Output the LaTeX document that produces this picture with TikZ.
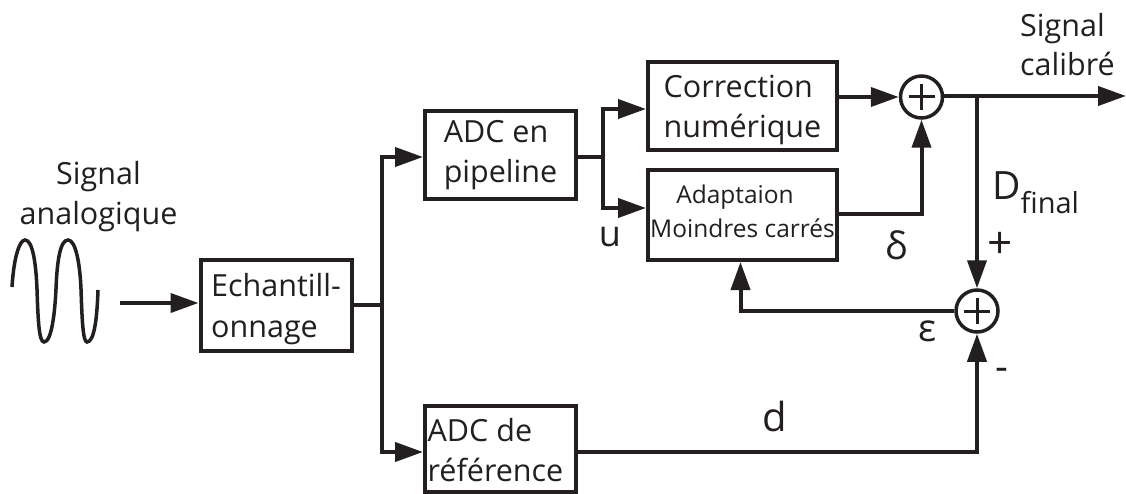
\documentclass[tikz,border=0pt]{standalone}
\usepackage{fontspec}
\setmainfont{Open Sans}
\usetikzlibrary{arrows.meta}
\definecolor{ink}{HTML}{231F20}
\tikzset{
  bloc/.style={draw=ink, line width=4pt, rectangle, inner sep=0pt, text=ink, align=left,
    font=\fontsize{30.5}{40}\selectfont},
  somme/.style={draw=ink, line width=3.5pt, circle, minimum size=42pt, inner sep=0pt},
  fil/.style={draw=ink, line width=4pt},
  fleche/.style={fil, -{Triangle[length=28pt,width=19pt]}},
  lab/.style={text=ink, inner sep=0pt, align=left, font=\fontsize{30.5}{39}\selectfont},
  signe/.style={draw=ink, line width=3pt}
}
\begin{document}
\begin{tikzpicture}[x=1pt,y=-1pt]
  \useasboundingbox (0,0) rectangle (1126,494);
  % blocs
  \node[bloc, minimum width=151pt, minimum height=91pt, font=\fontsize{30.5}{41}\selectfont] (ech) at (276,305) {\rule{0pt}{31pt}Echantill-\\onnage};
  \node[bloc, minimum width=151pt, minimum height=88pt] (pipe) at (500.5,155) {ADC en\\pipeline};
  \node[bloc, minimum width=151pt, minimum height=86pt] (ref) at (500.5,449) {\rule{0pt}{26pt}ADC de\\référence\hspace*{10pt}};
  \node[bloc, minimum width=189pt, minimum height=88pt] (corr) at (742.5,106) {\rule{0pt}{31pt}Correction\\numérique};
  \node[bloc, minimum width=189pt, minimum height=90pt, align=center,
    font=\fontsize{24.5}{34}\selectfont] (adapt) at (742.5,215) {Adaptaion\hspace*{15pt}\\Moindres carrés\rule[-7pt]{0pt}{7pt}};
  \node[somme] (sumA) at (921.5,97) {};
  \node[somme] (sumB) at (977,311) {};
  \draw[signe] (sumA.center) +(-13,0) -- +(13,0) (sumA.center) +(0,-13) -- +(0,13);
  \draw[signe] (sumB.center) +(-13,0) -- +(13,0) (sumB.center) +(0,-13) -- +(0,13);
  % points libres
  \coordinate (ent) at (120,303);
  \coordinate (sortie) at (1126,96);
  \coordinate (brA) at (382,305);
  \coordinate (brB) at (603,157);
  \coordinate (nD) at (977,96);
  % liaisons
  \draw[fleche] (ent) -- (ech.west |- ent);
  \draw[fil] (ech.east |- brA) -- (brA);
  \draw[fleche] (brA) |- (pipe.west |- brB);
  \coordinate (bas) at (ref.east |- 0,452);
  \draw[fleche] (brA) |- (ref.west |- bas);
  \draw[fil] (pipe.east |- brB) -- (brB);
  \coordinate (hA) at (603,109);
  \coordinate (hB) at (603,208);
  \draw[fleche] (brB) -- (hA) -- (corr.west |- hA);
  \draw[fleche] (brB) -- (hB) -- (adapt.west |- hB);
  \draw[fleche] (corr.east |- sumA) -- (sumA.west);
  \coordinate (delta) at (adapt.east |- 0,214);
  \draw[fleche] (delta) -| (sumA.south);
  \draw[fleche] (sumA.east |- nD) -- (sortie);
  \draw[fleche] (nD) -- (sumB.north);
  \coordinate (ret) at (740.5,311);
  \draw[fleche] (sumB.west) -- (ret) -- (ret |- adapt.south);
  \draw[fleche] (bas) -| (sumB.south);
  % sinusoide
  \draw[ink, line width=3.5pt] (12,287) .. controls (14,255) and (20,240) .. (25,240)
    .. controls (33,240) and (36,265) .. (37,289)
    .. controls (38,320) and (39,342) .. (44,342)
    .. controls (52,342) and (55,310) .. (56,289)
    .. controls (57,262) and (60,240) .. (68,240)
    .. controls (76,240) and (80,265) .. (81,289)
    .. controls (82,320) and (83,342) .. (87,342)
    .. controls (94,342) and (97,320) .. (98,290);
  % textes
  \node[lab, align=center, font=\fontsize{30.5}{40}\selectfont] (tAna) at (98.5,197) {Signal\\analogique};
  \node[lab, anchor=west] (tCal) at (1020,45) {Signal\\calibré};
  \node[lab, font=\fontsize{36}{40}\selectfont] (tU) at (610,237) {u};
  \node[lab, font=\fontsize{38}{40}\selectfont] (tDelta) at (897,245) {δ};
  \node[lab, font=\fontsize{38}{40}\selectfont] (tEps) at (928,331) {ε};
  \node[lab, font=\fontsize{44}{40}\selectfont] (tPlus) at (1000,245) {+};
  \node[lab, font=\fontsize{40}{40}\selectfont] (tMoins) at (1002,374) {-};
  \node[lab, font=\fontsize{40}{40}\selectfont] (tD) at (775,416) {d};
  \node[lab, anchor=base west] (tFinal) at (992,200) {\fontsize{39}{40}\selectfont D\raisebox{-14pt}{\fontsize{29}{30}\selectfont final}};
\end{tikzpicture}
\end{document}
